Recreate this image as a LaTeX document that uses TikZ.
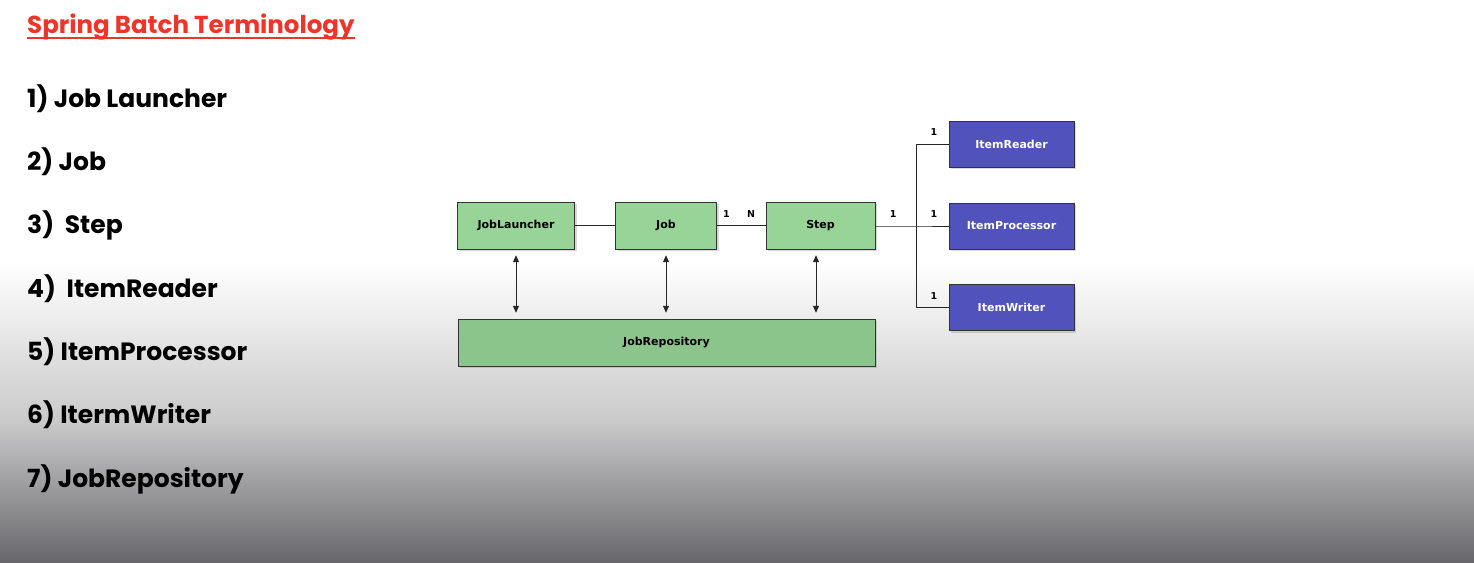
\documentclass[tikz,border=0pt]{standalone}
\usepackage{fontspec}
\newfontfamily\gothic{Poppins}
\newfontfamily\diafont{DejaVu Sans}
\usetikzlibrary{arrows.meta, positioning, shadows, calc}
\definecolor{titlered}{RGB}{240,52,40}
\definecolor{boxgreen}{RGB}{152,211,152}
\definecolor{repogreen}{RGB}{140,197,140}
\definecolor{boxblue}{RGB}{82,82,188}
\definecolor{midgray}{RGB}{202,202,203}
\definecolor{lowgray}{RGB}{104,104,108}

\begin{document}
\begin{tikzpicture}[x=1pt, y=-1pt,
    every node/.style={font=\diafont\bfseries\fontsize{11}{13}\selectfont},
    term/.style={anchor=base west, inner sep=0pt, font=\gothic\bfseries\fontsize{25}{28}\selectfont},
    greenbox/.style={draw=black!80, fill=boxgreen, minimum height=47pt, inner sep=0pt,
        drop shadow={shadow xshift=2pt, shadow yshift=-2pt, opacity=0.3}},
    bluebox/.style={draw=black!80, fill=boxblue, text=white, minimum width=125pt, minimum height=46pt, inner sep=0pt,
        drop shadow={shadow xshift=2pt, shadow yshift=-2pt, opacity=0.3}},
    mult/.style={inner sep=0pt, font=\diafont\bfseries\fontsize{9.5}{11}\selectfont},
    link/.style={draw=black!85, line width=1pt},
    access/.style={link, arrows={Triangle[length=7pt, width=6pt]-Triangle[length=7pt, width=6pt]}, shorten >=6pt, shorten <=6pt}]

    \useasboundingbox (0,0) rectangle (1474,562);
    % slide background
    \fill[white] (0,0) rectangle (1474,562);
    \shade[top color=white, bottom color=midgray] (0,262) rectangle (1474,420);
    \shade[top color=midgray, bottom color=lowgray] (0,420) rectangle (1474,562);

    % terms
    \node[term, text=titlered, font=\gothic\bfseries\fontsize{24.5}{28}\selectfont] (title) at (27,33) {Spring Batch Terminology};
    \draw[titlered, line width=2pt] ($(title.base west)+(0,5)$) -- ($(title.base east)+(0,5)$);
    \node[term] (t1) at (27,107) {1) Job Launcher};
    \node[term] (t2) at (27,170) {2) Job};
    \node[term] (t3) at (27,233) {3)\ \ Step};
    \node[term] (t4) at (27,297) {4)\ \ ItemReader};
    \node[term] (t5) at (27,360) {5) ItemProcessor};
    \node[term] (t6) at (27,423) {6) ItermWriter};
    \node[term] (t7) at (27,487) {7) JobRepository};

    % diagram
    \node[greenbox, minimum width=117pt] (launcher) at (516,225.5) {JobLauncher};
    \node[greenbox, minimum width=101pt] (job) at (666,225.5) {Job};
    \node[greenbox, minimum width=109pt] (step) at (820.5,225.5) {Step};
    \node[greenbox, minimum width=417pt, fill=repogreen] (repo) at (666.5,342.5) {JobRepository};

    \node[bluebox] (reader) at (1011.5,144) {ItemReader};
    \node[bluebox] (processor) at (1011.5,226) {ItemProcessor};
    \node[bluebox] (writer) at (1011.5,307.5) {ItemWriter};
    \coordinate (split) at (916,226);

    \draw[link] (launcher) -- (job);
    \draw[link] (job) -- node[mult, pos=0.2, above=8pt] {1} node[mult, pos=0.7, above=8pt] {N} (step);
    \draw[link] (step.east |- split) -- node[mult, pos=0.44, above=8pt] {1} (split) -- node[mult, pos=0.55, above=8pt] {1} (processor.west);
    \draw[link] (reader.west) -| (split);
    \draw[link] (split) |- (writer.west);
    \node[mult] at (934,132) {1};
    \node[mult] at (934,296) {1};

    \draw[access] (launcher.south) -- (launcher.south |- repo.north);
    \draw[access] (job.south) -- (job.south |- repo.north);
    \draw[access] ([xshift=-4.5pt]step.south) -- ([xshift=-4.5pt]step.south |- repo.north);
\end{tikzpicture}
\end{document}
